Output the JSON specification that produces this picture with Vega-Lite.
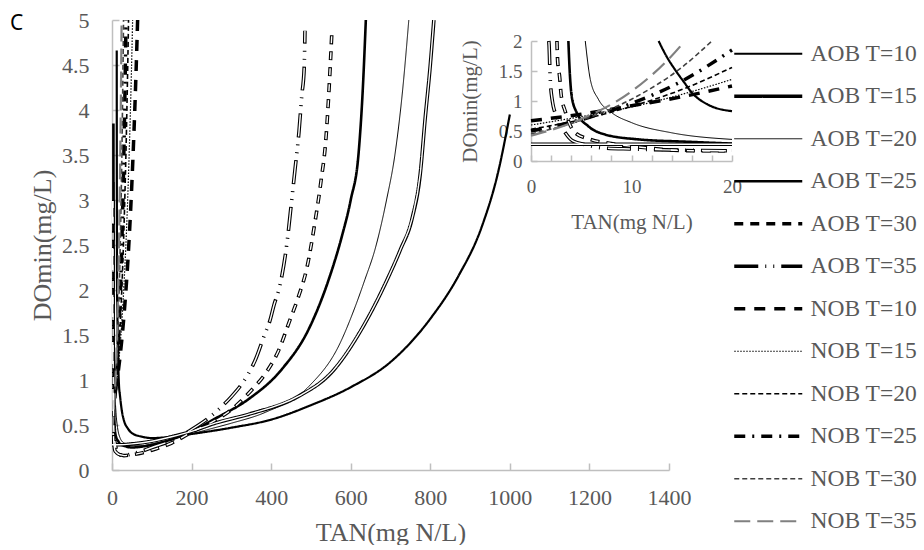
{
"$schema": "https://vega.github.io/schema/vega-lite/v6.json",
"background": "white",
"padding": {"left": 10, "top": 9, "right": 0, "bottom": 0},
"width": 557, "height": 450,
"title": {"text": "C", "anchor": "start", "frame": "group", "font": "Noto Sans", "fontSize": 21, "fontWeight": "normal", "color": "#000000", "dx": -102, "offset": -25},
"config": {"view": {"stroke": null}, "axis": {"grid": false, "domainColor": "#bfbfbf", "domainWidth": 1.5, "tickColor": "#bfbfbf", "tickWidth": 1.5, "labelFont": "Liberation Serif", "labelColor": "#595959", "labelOverlap": false, "labelFlush": false, "titleFont": "Liberation Serif", "titleFontWeight": "normal", "titleColor": "#595959"}},
"data": {"name": "curves"},
"datasets": {"curves": [
{"series":"AOB T=10","TAN":11.9,"DO":4.66},{"series":"AOB T=10","TAN":12.1,"DO":3.4},{"series":"AOB T=10","TAN":12.4,"DO":2.5},{"series":"AOB T=10","TAN":12.7,"DO":2.0},{"series":"AOB T=10","TAN":13.5,"DO":1.74},{"series":"AOB T=10","TAN":14.3,"DO":1.53},{"series":"AOB T=10","TAN":15.2,"DO":1.32},{"series":"AOB T=10","TAN":16,"DO":1.14},{"series":"AOB T=10","TAN":17.6,"DO":0.94},{"series":"AOB T=10","TAN":20,"DO":0.83},{"series":"AOB T=10","TAN":25,"DO":0.65},{"series":"AOB T=10","TAN":30,"DO":0.55},{"series":"AOB T=10","TAN":40,"DO":0.46},{"series":"AOB T=10","TAN":50,"DO":0.41},{"series":"AOB T=10","TAN":75,"DO":0.37},{"series":"AOB T=10","TAN":100,"DO":0.355},{"series":"AOB T=10","TAN":150,"DO":0.37},{"series":"AOB T=10","TAN":200,"DO":0.4},{"series":"AOB T=10","TAN":300,"DO":0.47},{"series":"AOB T=10","TAN":400,"DO":0.56},{"series":"AOB T=10","TAN":500,"DO":0.72},{"series":"AOB T=10","TAN":600,"DO":0.92},{"series":"AOB T=10","TAN":700,"DO":1.2},{"series":"AOB T=10","TAN":800,"DO":1.68},{"series":"AOB T=10","TAN":870,"DO":2.15},{"series":"AOB T=10","TAN":930,"DO":2.71},{"series":"AOB T=10","TAN":970,"DO":3.3},{"series":"AOB T=10","TAN":1000,"DO":3.95},
{"series":"AOB T=15","TAN":0,"DO":0.28},{"series":"AOB T=15","TAN":10,"DO":0.28},{"series":"AOB T=15","TAN":20,"DO":0.28},{"series":"AOB T=15","TAN":50,"DO":0.29},{"series":"AOB T=15","TAN":100,"DO":0.32},{"series":"AOB T=15","TAN":150,"DO":0.37},{"series":"AOB T=15","TAN":200,"DO":0.43},{"series":"AOB T=15","TAN":259,"DO":0.52},{"series":"AOB T=15","TAN":344,"DO":0.62},{"series":"AOB T=15","TAN":469,"DO":0.82},{"series":"AOB T=15","TAN":553,"DO":1.09},{"series":"AOB T=15","TAN":628,"DO":1.57},{"series":"AOB T=15","TAN":690,"DO":2.1},{"series":"AOB T=15","TAN":725,"DO":2.45},{"series":"AOB T=15","TAN":754,"DO":2.79},{"series":"AOB T=15","TAN":775,"DO":3.3},{"series":"AOB T=15","TAN":787,"DO":3.9},{"series":"AOB T=15","TAN":800,"DO":4.5},{"series":"AOB T=15","TAN":809,"DO":5.0},
{"series":"AOB T=20","TAN":5.2,"DO":3.2},{"series":"AOB T=20","TAN":5.3,"DO":2.4},{"series":"AOB T=20","TAN":5.4,"DO":2.0},{"series":"AOB T=20","TAN":5.9,"DO":1.36},{"series":"AOB T=20","TAN":6.7,"DO":1.03},{"series":"AOB T=20","TAN":8,"DO":0.81},{"series":"AOB T=20","TAN":10,"DO":0.64},{"series":"AOB T=20","TAN":14,"DO":0.47},{"series":"AOB T=20","TAN":20,"DO":0.36},{"series":"AOB T=20","TAN":30,"DO":0.3},{"series":"AOB T=20","TAN":50,"DO":0.27},{"series":"AOB T=20","TAN":75,"DO":0.27},{"series":"AOB T=20","TAN":100,"DO":0.29},{"series":"AOB T=20","TAN":150,"DO":0.34},{"series":"AOB T=20","TAN":200,"DO":0.4},{"series":"AOB T=20","TAN":250,"DO":0.46},{"series":"AOB T=20","TAN":300,"DO":0.52},{"series":"AOB T=20","TAN":385,"DO":0.64},{"series":"AOB T=20","TAN":495,"DO":0.93},{"series":"AOB T=20","TAN":570,"DO":1.38},{"series":"AOB T=20","TAN":610,"DO":1.8},{"series":"AOB T=20","TAN":636,"DO":2.12},{"series":"AOB T=20","TAN":661,"DO":2.45},{"series":"AOB T=20","TAN":690,"DO":3.0},{"series":"AOB T=20","TAN":711,"DO":3.5},{"series":"AOB T=20","TAN":730,"DO":4.2},{"series":"AOB T=20","TAN":746,"DO":5.0},
{"series":"AOB T=25","TAN":3.55,"DO":3.85},{"series":"AOB T=25","TAN":3.65,"DO":2.6},{"series":"AOB T=25","TAN":3.72,"DO":2.0},{"series":"AOB T=25","TAN":3.85,"DO":1.5},{"series":"AOB T=25","TAN":4.05,"DO":1.08},{"series":"AOB T=25","TAN":4.54,"DO":0.81},{"series":"AOB T=25","TAN":5.7,"DO":0.58},{"series":"AOB T=25","TAN":7.4,"DO":0.44},{"series":"AOB T=25","TAN":10.7,"DO":0.36},{"series":"AOB T=25","TAN":15.7,"DO":0.32},{"series":"AOB T=25","TAN":20,"DO":0.29},{"series":"AOB T=25","TAN":30,"DO":0.27},{"series":"AOB T=25","TAN":50,"DO":0.25},{"series":"AOB T=25","TAN":75,"DO":0.26},{"series":"AOB T=25","TAN":100,"DO":0.28},{"series":"AOB T=25","TAN":150,"DO":0.34},{"series":"AOB T=25","TAN":200,"DO":0.43},{"series":"AOB T=25","TAN":259,"DO":0.57},{"series":"AOB T=25","TAN":344,"DO":0.79},{"series":"AOB T=25","TAN":427,"DO":1.12},{"series":"AOB T=25","TAN":495,"DO":1.57},{"series":"AOB T=25","TAN":545,"DO":2.12},{"series":"AOB T=25","TAN":578,"DO":2.6},{"series":"AOB T=25","TAN":600,"DO":3.0},{"series":"AOB T=25","TAN":620,"DO":3.53},{"series":"AOB T=25","TAN":630,"DO":4.2},{"series":"AOB T=25","TAN":638,"DO":5.0},
{"series":"AOB T=30","TAN":2.45,"DO":3.0},{"series":"AOB T=30","TAN":2.55,"DO":2.3},{"series":"AOB T=30","TAN":2.58,"DO":2.0},{"series":"AOB T=30","TAN":2.65,"DO":1.67},{"series":"AOB T=30","TAN":2.85,"DO":1.4},{"series":"AOB T=30","TAN":3.0,"DO":1.1},{"series":"AOB T=30","TAN":3.4,"DO":0.83},{"series":"AOB T=30","TAN":4.4,"DO":0.47},{"series":"AOB T=30","TAN":5.9,"DO":0.36},{"series":"AOB T=30","TAN":8,"DO":0.29},{"series":"AOB T=30","TAN":11.5,"DO":0.22},{"series":"AOB T=30","TAN":14.2,"DO":0.18},{"series":"AOB T=30","TAN":17,"DO":0.17},{"series":"AOB T=30","TAN":20,"DO":0.17},{"series":"AOB T=30","TAN":30,"DO":0.16},{"series":"AOB T=30","TAN":50,"DO":0.17},{"series":"AOB T=30","TAN":75,"DO":0.19},{"series":"AOB T=30","TAN":100,"DO":0.22},{"series":"AOB T=30","TAN":150,"DO":0.3},{"series":"AOB T=30","TAN":200,"DO":0.42},{"series":"AOB T=30","TAN":250,"DO":0.53},{"series":"AOB T=30","TAN":297,"DO":0.66},{"series":"AOB T=30","TAN":347,"DO":0.87},{"series":"AOB T=30","TAN":390,"DO":1.1},{"series":"AOB T=30","TAN":420,"DO":1.34},{"series":"AOB T=30","TAN":445,"DO":1.64},{"series":"AOB T=30","TAN":469,"DO":1.93},{"series":"AOB T=30","TAN":490,"DO":2.25},{"series":"AOB T=30","TAN":510,"DO":2.75},{"series":"AOB T=30","TAN":525,"DO":3.2},{"series":"AOB T=30","TAN":538,"DO":3.7},{"series":"AOB T=30","TAN":546,"DO":4.27},{"series":"AOB T=30","TAN":553,"DO":4.9},
{"series":"AOB T=35","TAN":1.6,"DO":3.0},{"series":"AOB T=35","TAN":1.7,"DO":2.3},{"series":"AOB T=35","TAN":1.77,"DO":2.0},{"series":"AOB T=35","TAN":1.8,"DO":1.93},{"series":"AOB T=35","TAN":1.9,"DO":1.42},{"series":"AOB T=35","TAN":2.1,"DO":1.03},{"series":"AOB T=35","TAN":2.6,"DO":0.72},{"series":"AOB T=35","TAN":3.3,"DO":0.5},{"series":"AOB T=35","TAN":4.2,"DO":0.33},{"series":"AOB T=35","TAN":5.5,"DO":0.27},{"series":"AOB T=35","TAN":7,"DO":0.22},{"series":"AOB T=35","TAN":10,"DO":0.2},{"series":"AOB T=35","TAN":15,"DO":0.18},{"series":"AOB T=35","TAN":20,"DO":0.17},{"series":"AOB T=35","TAN":30,"DO":0.16},{"series":"AOB T=35","TAN":50,"DO":0.18},{"series":"AOB T=35","TAN":75,"DO":0.21},{"series":"AOB T=35","TAN":100,"DO":0.25},{"series":"AOB T=35","TAN":150,"DO":0.33},{"series":"AOB T=35","TAN":200,"DO":0.45},{"series":"AOB T=35","TAN":249,"DO":0.6},{"series":"AOB T=35","TAN":299,"DO":0.81},{"series":"AOB T=35","TAN":322,"DO":0.93},{"series":"AOB T=35","TAN":344,"DO":1.08},{"series":"AOB T=35","TAN":359,"DO":1.21},{"series":"AOB T=35","TAN":384,"DO":1.51},{"series":"AOB T=35","TAN":397,"DO":1.66},{"series":"AOB T=35","TAN":407,"DO":1.83},{"series":"AOB T=35","TAN":422,"DO":2.05},{"series":"AOB T=35","TAN":440,"DO":2.53},{"series":"AOB T=35","TAN":450,"DO":2.93},{"series":"AOB T=35","TAN":460,"DO":3.34},{"series":"AOB T=35","TAN":470,"DO":3.76},{"series":"AOB T=35","TAN":477,"DO":4.16},{"series":"AOB T=35","TAN":483,"DO":4.46},{"series":"AOB T=35","TAN":485,"DO":4.88},
{"series":"NOB T=10","TAN":0,"DO":0.67},{"series":"NOB T=10","TAN":5,"DO":0.78},{"series":"NOB T=10","TAN":10,"DO":0.92},{"series":"NOB T=10","TAN":15,"DO":1.07},{"series":"NOB T=10","TAN":20,"DO":1.25},{"series":"NOB T=10","TAN":30,"DO":1.71},{"series":"NOB T=10","TAN":40,"DO":2.33},{"series":"NOB T=10","TAN":50,"DO":3.19},{"series":"NOB T=10","TAN":60,"DO":4.36},{"series":"NOB T=10","TAN":65,"DO":5.09},
{"series":"NOB T=15","TAN":0,"DO":0.6},{"series":"NOB T=15","TAN":5,"DO":0.74},{"series":"NOB T=15","TAN":10,"DO":0.9},{"series":"NOB T=15","TAN":15,"DO":1.11},{"series":"NOB T=15","TAN":20,"DO":1.36},{"series":"NOB T=15","TAN":30,"DO":2.05},{"series":"NOB T=15","TAN":40,"DO":3.08},{"series":"NOB T=15","TAN":50,"DO":4.64},{"series":"NOB T=15","TAN":53,"DO":5.24},
{"series":"NOB T=20","TAN":0,"DO":0.53},{"series":"NOB T=20","TAN":5,"DO":0.69},{"series":"NOB T=20","TAN":10,"DO":0.91},{"series":"NOB T=20","TAN":15,"DO":1.19},{"series":"NOB T=20","TAN":20,"DO":1.56},{"series":"NOB T=20","TAN":25,"DO":2.04},{"series":"NOB T=20","TAN":30,"DO":2.68},{"series":"NOB T=20","TAN":35,"DO":3.51},{"series":"NOB T=20","TAN":40,"DO":4.6},{"series":"NOB T=20","TAN":43,"DO":5.4},
{"series":"NOB T=25","TAN":0,"DO":0.5},{"series":"NOB T=25","TAN":5,"DO":0.69},{"series":"NOB T=25","TAN":10,"DO":0.96},{"series":"NOB T=25","TAN":15,"DO":1.33},{"series":"NOB T=25","TAN":20,"DO":1.85},{"series":"NOB T=25","TAN":25,"DO":2.56},{"series":"NOB T=25","TAN":30,"DO":3.56},{"series":"NOB T=25","TAN":35,"DO":4.93},{"series":"NOB T=25","TAN":36,"DO":5.26},
{"series":"NOB T=30","TAN":0,"DO":0.45},{"series":"NOB T=30","TAN":5,"DO":0.68},{"series":"NOB T=30","TAN":10,"DO":1.03},{"series":"NOB T=30","TAN":15,"DO":1.56},{"series":"NOB T=30","TAN":18,"DO":2.0},{"series":"NOB T=30","TAN":20,"DO":2.36},{"series":"NOB T=30","TAN":25,"DO":3.57},{"series":"NOB T=30","TAN":30,"DO":5.4},
{"series":"NOB T=35","TAN":0,"DO":0.42},{"series":"NOB T=35","TAN":5,"DO":0.7},{"series":"NOB T=35","TAN":10,"DO":1.16},{"series":"NOB T=35","TAN":15,"DO":1.94},{"series":"NOB T=35","TAN":15.3,"DO":2.0},{"series":"NOB T=35","TAN":20,"DO":3.23},{"series":"NOB T=35","TAN":25,"DO":5.38}
]},
"resolve": {"scale": {"x": "independent", "y": "independent"}, "axis": {"x": "independent", "y": "independent"}},
"layer": [
{
"layer": [
{"mark": {"type": "line", "clip": true, "interpolate": "monotone"},
"encoding": {
"x": {"field": "TAN", "type": "quantitative", "scale": {"domain": [0, 1400], "nice": false},
"axis": {"orient": "bottom", "values": [0,200,400,600,800,1000,1200,1400], "format": "d", "title": "TAN(mg N/L)", "tickSize": -7, "labelPadding": 24, "labelFontSize": 22, "titleFontSize": 26, "titlePadding": 11}},
"y": {"field": "DO", "type": "quantitative", "scale": {"domain": [0, 5], "nice": false},
"axis": {"orient": "left", "values": [0,0.5,1,1.5,2,2.5,3,3.5,4,4.5,5], "format": "~g", "title": "DOmin(mg/L)", "tickSize": -7, "labelPadding": 30, "labelFontSize": 22, "titleFontSize": 26, "titlePadding": 6}},
"stroke": {"field": "series", "type": "nominal", "scale": {"domain": ["AOB T=10","AOB T=15","AOB T=20","AOB T=25","AOB T=30","AOB T=35","NOB T=10","NOB T=15","NOB T=20","NOB T=25","NOB T=30","NOB T=35"], "range": ["#000000","#000000","#000000","#000000","#000000","#000000","#000000","#000000","#000000","#000000","#404040","#808080"]},
"legend": {"orient": "none", "legendX": 619, "legendY": 22, "title": null, "symbolType": "M-1,0H7", "symbolSize": 289, "labelFont": "Liberation Serif", "labelFontSize": 23.5, "labelColor": "#595959", "labelOffset": 56, "rowPadding": 17.5}},
"strokeDash": {"field": "series", "type": "nominal", "scale": {"domain": ["AOB T=10","AOB T=15","AOB T=20","AOB T=25","AOB T=30","AOB T=35","NOB T=10","NOB T=15","NOB T=20","NOB T=25","NOB T=30","NOB T=35"], "range": [[1,0],[1,0],[1,0],[1,0],[9,7],[24,7,1,7,1,7],[11,9],[1.5,1.5],[5,3],[11,7,2,7],[5,3],[16,7]]},
"legend": {"orient": "none", "legendX": 619, "legendY": 22, "title": null, "symbolType": "M-1,0H7", "symbolSize": 289, "labelFont": "Liberation Serif", "labelFontSize": 23.5, "labelColor": "#595959", "labelOffset": 56, "rowPadding": 17.5}},
"strokeWidth": {"field": "series", "type": "nominal", "scale": {"type": "ordinal", "domain": ["AOB T=10","AOB T=15","AOB T=20","AOB T=25","AOB T=30","AOB T=35","NOB T=10","NOB T=15","NOB T=20","NOB T=25","NOB T=30","NOB T=35"], "range": [2.2,3.6,1,2.6,3.6,3.6,3.5,1.2,1.6,3.5,1.6,2.2]},
"legend": {"orient": "none", "legendX": 619, "legendY": 22, "title": null, "symbolType": "M-1,0H7", "symbolSize": 289, "labelFont": "Liberation Serif", "labelFontSize": 23.5, "labelColor": "#595959", "labelOffset": 56, "rowPadding": 17.5}}
}},
{"transform": [{"filter": "datum.series === 'AOB T=15'"}], "mark": {"type": "line", "clip": true, "interpolate": "monotone", "stroke": "white", "strokeWidth": 1.4},
"encoding": {"x": {"field": "TAN", "type": "quantitative"}, "y": {"field": "DO", "type": "quantitative"}}},
{"transform": [{"filter": "datum.series === 'AOB T=30'"}], "mark": {"type": "line", "clip": true, "interpolate": "monotone", "stroke": "white", "strokeWidth": 1.4, "strokeDash": [7, 9], "strokeDashOffset": -1},
"encoding": {"x": {"field": "TAN", "type": "quantitative"}, "y": {"field": "DO", "type": "quantitative"}}},
{"transform": [{"filter": "datum.series === 'AOB T=35'"}], "mark": {"type": "line", "clip": true, "interpolate": "monotone", "stroke": "white", "strokeWidth": 1.4, "strokeDash": [22, 25], "strokeDashOffset": -1},
"encoding": {"x": {"field": "TAN", "type": "quantitative"}, "y": {"field": "DO", "type": "quantitative"}}}
]
},
{
"transform": [{"filter": "datum.TAN <= 20 && datum.DO <= 2.0001"}],
"layer": [
{"mark": {"type": "line", "interpolate": "monotone"},
"encoding": {
"x": {"field": "TAN", "type": "quantitative", "scale": {"domain": [0, 20], "nice": false, "range": [419, 620]},
"axis": {"orient": "bottom", "offset": -309, "values": [0,2,4,6,8,10,12,14,16,18,20], "labelExpr": "datum.value % 10 === 0 ? datum.label : ''", "format": "d", "title": "TAN(mg N/L)", "tickSize": -6, "labelPadding": 22, "labelFontSize": 19, "titleFontSize": 21, "titlePadding": 15}},
"y": {"field": "DO", "type": "quantitative", "scale": {"domain": [0, 2], "nice": false, "range": [141, 21]},
"axis": {"orient": "left", "offset": -419, "values": [0,0.5,1,1.5,2], "format": "~g", "title": "DOmin(mg/L)", "tickSize": -6, "labelPadding": 15, "labelFontSize": 19, "titleFontSize": 21, "titlePadding": 18}},
"stroke": {"field": "series", "type": "nominal", "scale": {"domain": ["AOB T=10","AOB T=15","AOB T=20","AOB T=25","AOB T=30","AOB T=35","NOB T=10","NOB T=15","NOB T=20","NOB T=25","NOB T=30","NOB T=35"], "range": ["#000000","#000000","#000000","#000000","#000000","#000000","#000000","#000000","#000000","#000000","#404040","#808080"]},
"legend": {"orient": "none", "legendX": 619, "legendY": 22, "title": null, "symbolType": "M-1,0H7", "symbolSize": 289, "labelFont": "Liberation Serif", "labelFontSize": 23.5, "labelColor": "#595959", "labelOffset": 56, "rowPadding": 17.5}},
"strokeDash": {"field": "series", "type": "nominal", "scale": {"domain": ["AOB T=10","AOB T=15","AOB T=20","AOB T=25","AOB T=30","AOB T=35","NOB T=10","NOB T=15","NOB T=20","NOB T=25","NOB T=30","NOB T=35"], "range": [[1,0],[1,0],[1,0],[1,0],[9,7],[24,7,1,7,1,7],[11,9],[1.5,1.5],[5,3],[11,7,2,7],[5,3],[16,7]]},
"legend": {"orient": "none", "legendX": 619, "legendY": 22, "title": null, "symbolType": "M-1,0H7", "symbolSize": 289, "labelFont": "Liberation Serif", "labelFontSize": 23.5, "labelColor": "#595959", "labelOffset": 56, "rowPadding": 17.5}},
"strokeWidth": {"field": "series", "type": "nominal", "scale": {"type": "ordinal", "domain": ["AOB T=10","AOB T=15","AOB T=20","AOB T=25","AOB T=30","AOB T=35","NOB T=10","NOB T=15","NOB T=20","NOB T=25","NOB T=30","NOB T=35"], "range": [2.2,3.6,1,2.6,3.6,3.6,3.5,1.2,1.6,3.5,1.6,2.2]},
"legend": {"orient": "none", "legendX": 619, "legendY": 22, "title": null, "symbolType": "M-1,0H7", "symbolSize": 289, "labelFont": "Liberation Serif", "labelFontSize": 23.5, "labelColor": "#595959", "labelOffset": 56, "rowPadding": 17.5}}
}},
{"transform": [{"filter": "datum.series === 'AOB T=15'"}], "mark": {"type": "line", "interpolate": "monotone", "stroke": "white", "strokeWidth": 1.4},
"encoding": {"x": {"field": "TAN", "type": "quantitative"}, "y": {"field": "DO", "type": "quantitative"}}},
{"transform": [{"filter": "datum.series === 'AOB T=30'"}], "mark": {"type": "line", "interpolate": "monotone", "stroke": "white", "strokeWidth": 1.4, "strokeDash": [7, 9], "strokeDashOffset": -1},
"encoding": {"x": {"field": "TAN", "type": "quantitative"}, "y": {"field": "DO", "type": "quantitative"}}},
{"transform": [{"filter": "datum.series === 'AOB T=35'"}], "mark": {"type": "line", "interpolate": "monotone", "stroke": "white", "strokeWidth": 1.4, "strokeDash": [22, 25], "strokeDashOffset": -1},
"encoding": {"x": {"field": "TAN", "type": "quantitative"}, "y": {"field": "DO", "type": "quantitative"}}}
]
}
]
}
